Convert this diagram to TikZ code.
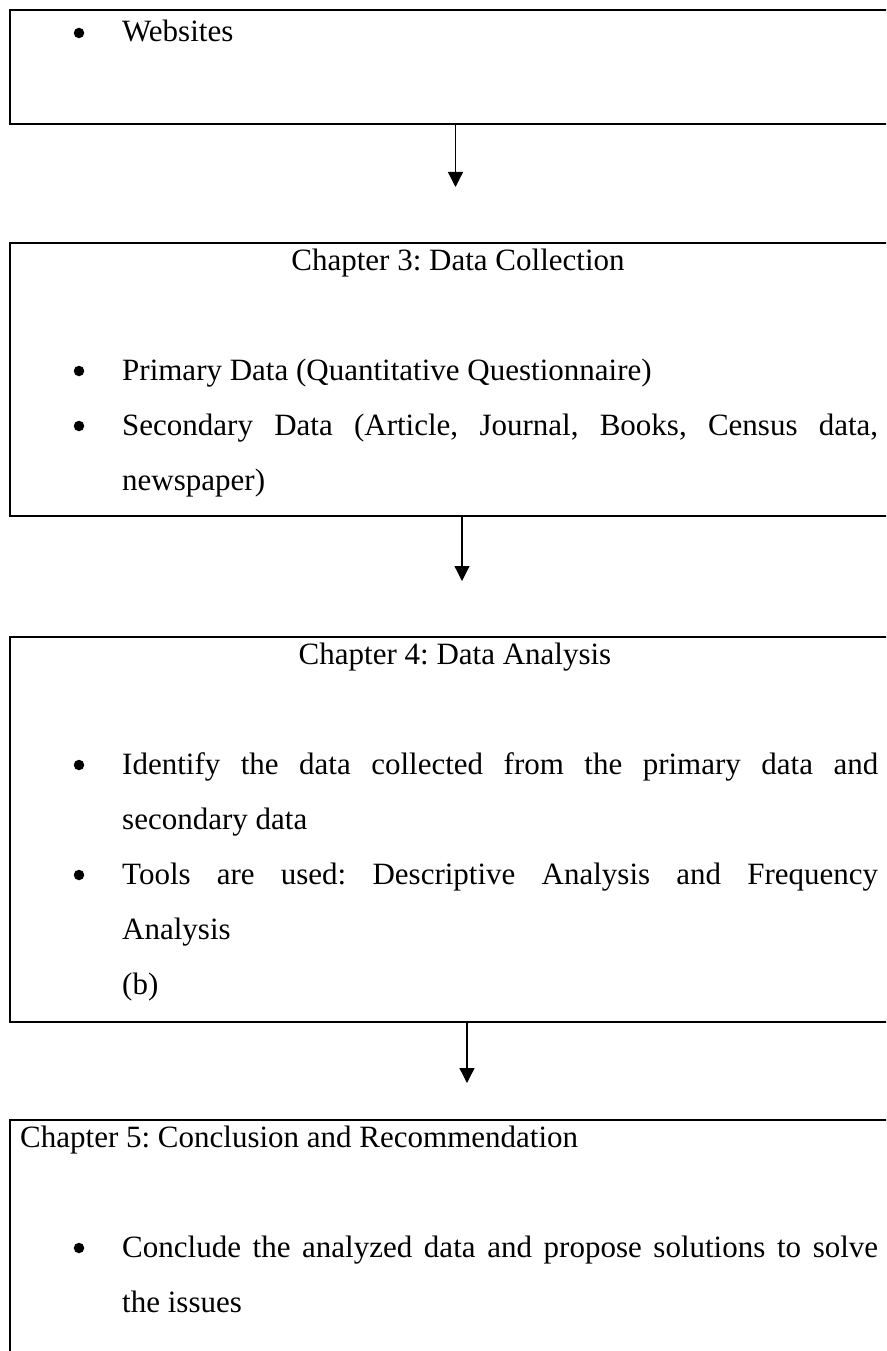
\documentclass[tikz,border=0pt]{standalone}
\usepackage{fontspec}
\setmainfont{Liberation Serif}
\usetikzlibrary{arrows.meta}
\frenchspacing
\tikzset{
  boxframe/.style={draw, line width=2.2pt, rectangle, anchor=north west, minimum width=1000pt, inner sep=0pt},
  txt/.style={anchor=base west, inner sep=0pt, font=\fontsize{31pt}{37pt}\selectfont},
  ttl/.style={anchor=base, inner sep=0pt, font=\fontsize{31pt}{37pt}\selectfont},
  dot/.style={circle, fill, draw=none, inner sep=0pt, minimum size=10.5pt},
  arr/.style={line width=1.3pt, -{Triangle[width=15pt,length=15pt]}}
}
\begin{document}
\begin{tikzpicture}[x=1pt,y=-1pt]
\useasboundingbox (0,0) rectangle (886,1351);
\clip (0,0) rectangle (886,1351);
% boxes
\node[boxframe, minimum height=114pt] (b1) at (9,9) {};
\node[boxframe, minimum height=273pt] (b2) at (9,242) {};
\node[boxframe, minimum height=385pt] (b3) at (9,636) {};
\node[boxframe, minimum height=300pt] (b4) at (9,1119) {};
% box 1
\node[dot] (d1) at (79,33) {};
\node[txt] (t1) at (122,42) {Websites};
% box 2
\node[ttl] (h2) at (458,270) {Chapter 3: Data Collection};
\node[dot] (d21) at (79,371) {};
\node[txt] (t21) at (122,380) {Primary Data (Quantitative Questionnaire)};
\node[dot] (d22) at (79,426) {};
\node[txt] (t22) at (122,435) {\makebox[756pt][s]{Secondary Data (Article, Journal, Books, Census data,}};
\node[txt] (t23) at (122,490) {newspaper)};
% box 3
\node[ttl] (h3) at (455,664) {Chapter 4: Data Analysis};
\node[dot] (d31) at (79,765) {};
\node[txt] (t31) at (122,774) {\makebox[756pt][s]{Identify the data collected from the primary data and}};
\node[txt] (t32) at (122,829) {secondary data};
\node[dot] (d32) at (79,875) {};
\node[txt] (t33) at (122,884) {\makebox[756pt][s]{Tools are used: Descriptive Analysis and Frequency}};
\node[txt] (t34) at (122,939) {Analysis};
\node[txt] (t35) at (122,994) {(b)};
% box 4
\node[txt] (h4) at (20,1147) {Chapter 5: Conclusion and Recommendation};
\node[dot] (d41) at (79,1248) {};
\node[txt] (t41) at (122,1257) {\makebox[756pt][s]{Conclude the analyzed data and propose solutions to solve}};
\node[txt] (t42) at (122,1312) {the issues};
% arrows
\coordinate (a1s) at (455.5,124);
\coordinate (a1e) at (455.5,187);
\coordinate (a2s) at (462,516);
\coordinate (a2e) at (462,581);
\coordinate (a3s) at (467,1022);
\coordinate (a3e) at (467,1083);
\draw[arr] (a1s) -- (a1e);
\draw[arr] (a2s) -- (a2e);
\draw[arr] (a3s) -- (a3e);
\end{tikzpicture}
\end{document}
